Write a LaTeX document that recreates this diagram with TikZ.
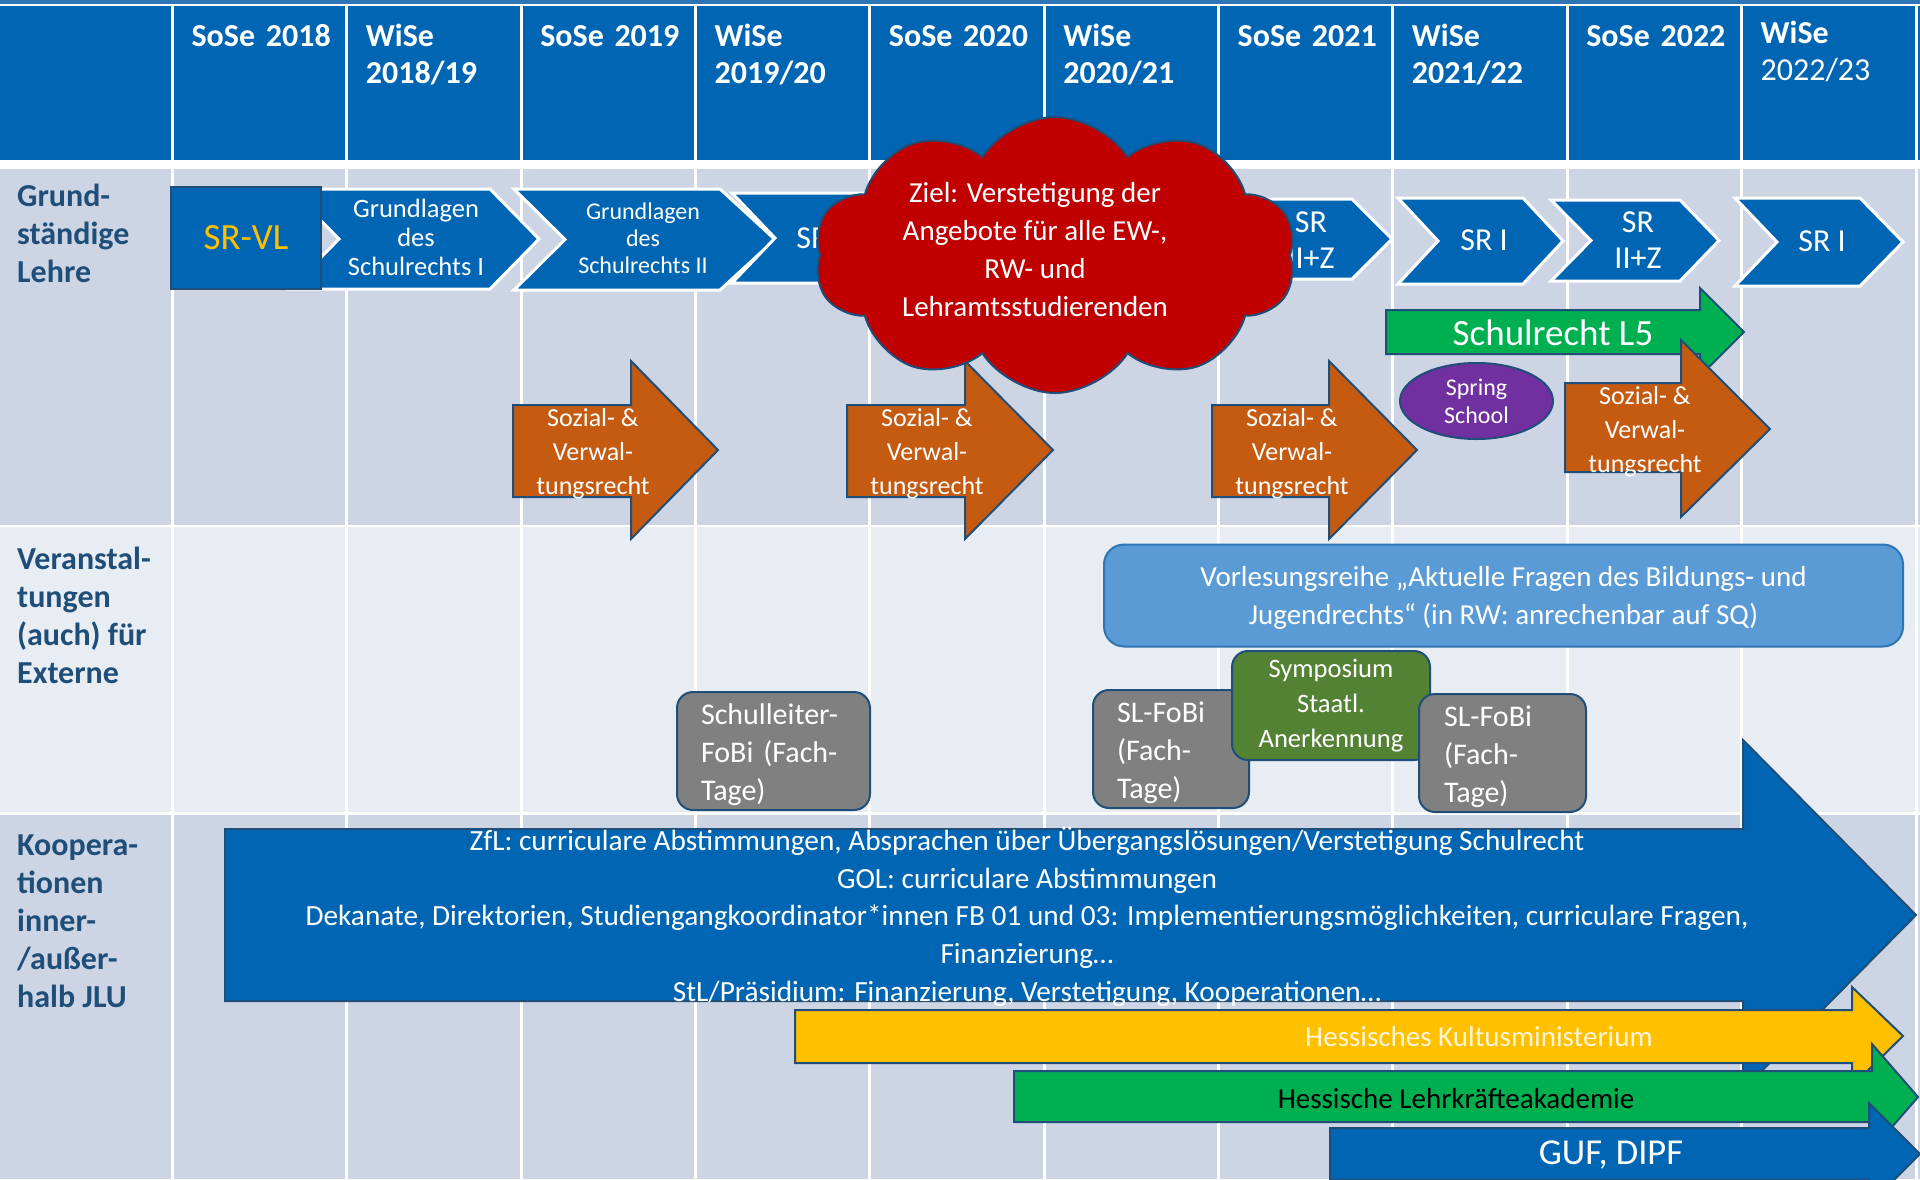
\documentclass[tikz,border=0pt]{standalone}
\usepackage{fontspec}
\setmainfont{Carlito}
\usetikzlibrary{shapes.geometric,shapes.symbols,positioning}

\definecolor{hdblue}{RGB}{0,102,179}
\definecolor{topblue}{RGB}{46,117,182}
\definecolor{rowa}{RGB}{205,213,229}
\definecolor{rowb}{RGB}{232,236,243}
\definecolor{labelblue}{RGB}{31,78,121}
\definecolor{edgeblue}{RGB}{31,78,121}
\definecolor{srgold}{RGB}{255,192,0}
\definecolor{sozorange}{RGB}{197,90,17}
\definecolor{goalred}{RGB}{192,0,0}
\definecolor{lfgreen}{RGB}{0,176,80}
\definecolor{sympgreen}{RGB}{84,130,53}
\definecolor{springpurple}{RGB}{112,48,160}
\definecolor{fobigray}{RGB}{128,128,128}
\definecolor{vlblue}{RGB}{91,155,213}
\definecolor{kmcream}{RGB}{255,244,214}

\begin{document}
\begin{tikzpicture}[x=1pt,y=-1pt,node distance=174.34pt,
	hd/.style={text=white,font=\fontsize{32}{37}\selectfont\bfseries,text width=150pt,align=left,inner sep=0pt,
		execute at begin node=\strut,execute at end node=\strut},
	rowlabel/.style={text=labelblue,font=\fontsize{32}{38}\selectfont\bfseries,align=left,inner sep=0pt,anchor=west},
	chev/.style={fill=hdblue,draw=white,line width=3pt},
	chevtext/.style={text=white,align=center,inner sep=0pt},
	soz/.style={fill=sozorange,draw=edgeblue,line width=2pt},
	soztext/.style={text=white,font=\fontsize{26}{34}\selectfont,align=center,inner sep=0pt},
	bar/.style={draw=edgeblue,line width=2pt},
	fobi/.style={fill=fobigray,draw=edgeblue,line width=2pt,rounded corners=16pt,text=white,
		font=\fontsize{30}{38}\selectfont,align=left,inner sep=0pt,execute at begin node=\rule{0pt}{28pt}}]

\useasboundingbox (0,0) rectangle (1920,1179);
\fill[white] (0,0) rectangle (1920,1179);
\fill[topblue] (0,0) rectangle (1920,4);
\fill[hdblue] (0,6) rectangle (1920,160);
\fill[rowa] (0,169) rectangle (1920,525);
\fill[rowb] (0,527) rectangle (1920,812);
\fill[rowa] (0,815) rectangle (1920,1179);
\foreach \i in {0,...,10}
	\draw[white,line width=3pt] (172.6+174.34*\i,6) -- (172.6+174.34*\i,1179);

\node[hd]   (h1) at (266.6,58)	{SoSe 2018\\~};
\node[hd]   (h2)[right of=h1]	{WiSe\\2018/19};
\node[hd]   (h3)[right of=h2]	{SoSe 2019\\~};
\node[hd]   (h4)[right of=h3]	{WiSe\\2019/20};
\node[hd]   (h5)[right of=h4]	{SoSe 2020\\~};
\node[hd]   (h6)[right of=h5]	{WiSe\\2020/21};
\node[hd]   (h7)[right of=h6]	{SoSe 2021\\~};
\node[hd]   (h8)[right of=h7]	{WiSe\\2021/22};
\node[hd]   (h9)[right of=h8]	{SoSe 2022\\~};
\node[hd]   (h10)[right of=h9,yshift=3pt]	{WiSe\\\mdseries 2022/23};

\node[rowlabel]   (lehre) at (17,233)	{Grund-\\ständige\\Lehre};
\node[rowlabel]   (extern) at (17,615)	{Veranstal-\\tungen\\(auch) für\\Externe};
\node[rowlabel]   (koop) at (17,921)	{Koopera-\\tionen\\inner-\\/außer-\\halb JLU};

\draw[chev] (290,189) -- (490,189) -- (539,239) -- (490,289) -- (290,289) -- (339,239) -- cycle;
\draw[chev] (514,189) -- (720,189) -- (775,239.5) -- (720,290) -- (514,290) -- (565,239.5) -- cycle;
\draw[chev] (732,193) -- (890,193) -- (935,238) -- (890,283) -- (732,283) -- (775,238) -- cycle;
\draw[chev] (1222,199) -- (1352,199) -- (1392,239) -- (1352,279) -- (1222,279) -- (1262,239) -- cycle;
\draw[chev] (1398,198) -- (1523,198) -- (1563,241) -- (1523,284) -- (1398,284) -- (1438,241) -- cycle;
\draw[chev] (1551,200) -- (1680,200) -- (1719,240.5) -- (1680,281) -- (1551,281) -- (1591,240.5) -- cycle;
\draw[chev] (1735,198) -- (1860,198) -- (1903,242) -- (1860,286) -- (1735,286) -- (1777,242) -- cycle;

\node[chevtext,font=\fontsize{26.5}{29}\selectfont]   (gl1) at (416,237)	{Grundlagen\\des\\Schulrechts I};
\node[chevtext,font=\fontsize{24}{27}\selectfont]   (gl2) at (643,238)	{Grundlagen\\des\\Schulrechts II};
\node[chevtext,font=\fontsize{32}{36}\selectfont]   (sr1) at (820,238)	{SR I};
\node[chevtext,font=\fontsize{32}{36}\selectfont]   (sr2) at (1311,240)	{SR\\II+Z};
\node[chevtext,font=\fontsize{32}{36}\selectfont]   (sr3) at (1484,240)	{SR I};
\node[chevtext,font=\fontsize{32}{36}\selectfont]   (sr4) at (1638,240)	{SR\\II+Z};
\node[chevtext,font=\fontsize{32}{36}\selectfont]   (sr5) at (1822,241)	{SR I};

\node[fill=hdblue,draw=edgeblue,line width=2pt,minimum width=150pt,minimum height=102pt,
	text=srgold,font=\fontsize{37}{40}\selectfont]   (srvl) at (246,238)	{SR-VL};

\draw[bar,fill=lfgreen] (1386,310) -- (1700,310) -- (1700,288) -- (1744,332) -- (1700,376) -- (1700,354) -- (1386,354) -- cycle;
\node[text=white,font=\fontsize{37}{40}\selectfont,inner sep=0pt]   (l5) at (1553,333)	{Schulrecht L5};

\node[ellipse,fill=springpurple,draw=edgeblue,line width=2pt,minimum width=153pt,minimum height=76pt,
	text=white,font=\fontsize{24}{28}\selectfont,align=center,inner sep=0pt]   (spring) at (1476.5,401)	{Spring\\School};

\draw[soz] (513,405) -- (631,405) -- (631,361) -- (718,450) -- (631,539) -- (631,497) -- (513,497) -- cycle;
\draw[soz] (847,405) -- (965,405) -- (965,361) -- (1053,450) -- (965,539) -- (965,497) -- (847,497) -- cycle;
\draw[soz] (1212,405) -- (1329,405) -- (1329,361) -- (1417,450) -- (1329,539) -- (1329,497) -- (1212,497) -- cycle;
\draw[soz] (1565,383) -- (1681,383) -- (1681,340) -- (1770,429) -- (1681,517) -- (1681,472) -- (1565,472) -- cycle;
\node[soztext]   (soz1) at (593,454)	{Sozial- \&\\Verwal-\\tungsrecht};
\node[soztext]   (soz2) at (927,454)	{Sozial- \&\\Verwal-\\tungsrecht};
\node[soztext]   (soz3) at (1292,454)	{Sozial- \&\\Verwal-\\tungsrecht};
\node[soztext]   (soz4) at (1645,432)	{Sozial- \&\\Verwal-\\tungsrecht};

\node[cloud,cloud puffs=10,cloud puff arc=115,fill=goalred,draw=edgeblue,line width=2pt,minimum width=482pt,minimum height=276pt]   (goal) at (1055,255)	{};
\node[text=white,font=\fontsize{29}{38}\selectfont,align=center,inner sep=0pt]   (goaltext) at (1035,249.5)	{Ziel: Verstetigung der\\Angebote für alle EW-,\\RW- und\\Lehramtsstudierenden};

\node[fill=vlblue,draw=topblue,line width=2pt,rounded corners=20pt,minimum width=799pt,minimum height=102pt,
	text=white,font=\fontsize{29}{38}\selectfont,align=center,inner ysep=0pt,text depth=0pt,execute at begin node=\rule{0pt}{26pt}]   (vl) at (1503.5,595.5)	{Vorlesungsreihe „Aktuelle Fragen des Bildungs- und\\Jugendrechts“ (in RW: anrechenbar auf SQ)};

\node[fobi,minimum width=193pt,minimum height=118pt,text width=145pt]   (slfobi) at (773.5,751)	{Schulleiter-\\FoBi (Fach-\\Tage)};
\node[fobi,minimum width=156pt,minimum height=118pt,text width=108pt]   (fobia) at (1171,749)	{SL-FoBi\\(Fach-\\Tage)};
\node[fobi,fill=sympgreen,minimum width=198pt,minimum height=109pt,align=center,
	font=\fontsize{26.6}{35}\selectfont,execute at begin node=\rule{0pt}{24pt}]   (symp) at (1331,705.5)	{Symposium\\Staatl.\\Anerkennung};
\node[fobi,minimum width=167pt,minimum height=118pt,text width=117pt]   (fobib) at (1502.5,753)	{SL-FoBi\\(Fach-\\Tage)};

\draw[bar,fill=hdblue] (225,829) -- (1743,829) -- (1743,740) -- (1916,915) -- (1743,1090) -- (1743,1001) -- (225,1001) -- cycle;
\node[text=white,font=\fontsize{29.3}{37.7}\selectfont,align=center,inner sep=0pt]   (kooptext) at (1027,916.5)
	{ZfL: curriculare Abstimmungen, Absprachen über Übergangslösungen/Verstetigung Schulrecht\\
	GOL: curriculare Abstimmungen\\
	Dekanate, Direktorien, Studiengangkoordinator*innen FB 01 und 03: Implementierungsmöglichkeiten, curriculare Fragen,\\
	Finanzierung…\\
	StL/Präsidium: Finanzierung, Verstetigung, Kooperationen…};

\draw[bar,fill=srgold] (795,1010) -- (1852,1010) -- (1852,987) -- (1903,1036) -- (1852,1086) -- (1852,1063) -- (795,1063) -- cycle;
\node[text=kmcream,font=\fontsize{29}{34}\selectfont,inner sep=0pt]   (hkm) at (1479,1037)	{Hessisches Kultusministerium};

\draw[bar,fill=lfgreen] (1014,1071) -- (1872,1071) -- (1872,1044) -- (1918,1097) -- (1872,1150) -- (1872,1122) -- (1014,1122) -- cycle;
\node[text=black,font=\fontsize{29}{34}\selectfont,inner sep=0pt]   (hla) at (1456,1099)	{Hessische Lehrkräfteakademie};

\draw[bar,fill=hdblue] (1330,1128) -- (1869,1128) -- (1869,1103) -- (1920,1154) -- (1869,1205) -- (1869,1180) -- (1330,1180) -- cycle;
\node[text=white,font=\fontsize{36.5}{40}\selectfont,inner sep=0pt]   (guf) at (1611,1155)	{GUF, DIPF};

\end{tikzpicture}
\end{document}
